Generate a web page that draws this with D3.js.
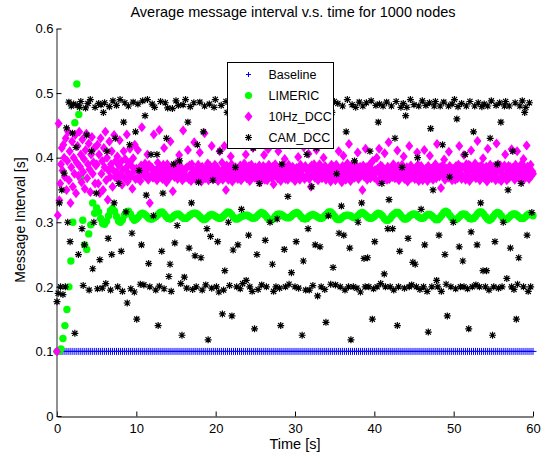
<!DOCTYPE html>
<html>
<head>
<meta charset="utf-8">
<script src="https://cdn.jsdelivr.net/npm/d3@7"></script>
<style>
  body { margin: 0; background: #fff; }
  text { font-family: "Liberation Sans", Arial, Helvetica, sans-serif; fill: #000; }
</style>
</head>
<body>
<div id="chart"></div>
<script>
const title = "Average message interval v.s. time for 1000 nodes";
const xLabel = "Time [s]";
const yLabel = "Message Interval [s]";
const xTicks = [0, 10, 20, 30, 40, 50, 60];
const yTicks = [0, 0.1, 0.2, 0.3, 0.4, 0.5, 0.6];
const yTickLabels = ["0", "0.1", "0.2", "0.3", "0.4", "0.5", "0.6"];
const seriesNames = ["Baseline", "LIMERIC", "10Hz_DCC", "CAM_DCC"];

// sample interval (s) of each series, values listed in time order
const baselineStep = 0.25;
const limericStep = 0.25;
const dccStep = 0.1;
const camStep = 0.15;

const baseline = [
  .1,.1,.1,.1,.1,.1,.1,.1,.1,.1,.1,.1,.1,.1,.1,.1,.1,.1,.1,.1,
  .1,.1,.1,.1,.1,.1,.1,.1,.1,.1,.1,.1,.1,.1,.1,.1,.1,.1,.1,.1,
  .1,.1,.1,.1,.1,.1,.1,.1,.1,.1,.1,.1,.1,.1,.1,.1,.1,.1,.1,.1,
  .1,.1,.1,.1,.1,.1,.1,.1,.1,.1,.1,.1,.1,.1,.1,.1,.1,.1,.1,.1,
  .1,.1,.1,.1,.1,.1,.1,.1,.1,.1,.1,.1,.1,.1,.1,.1,.1,.1,.1,.1,
  .1,.1,.1,.1,.1,.1,.1,.1,.1,.1,.1,.1,.1,.1,.1,.1,.1,.1,.1,.1,
  .1,.1,.1,.1,.1,.1,.1,.1,.1,.1,.1,.1,.1,.1,.1,.1,.1,.1,.1,.1,
  .1,.1,.1,.1,.1,.1,.1,.1,.1,.1,.1,.1,.1,.1,.1,.1,.1,.1,.1,.1,
  .1,.1,.1,.1,.1,.1,.1,.1,.1,.1,.1,.1,.1,.1,.1,.1,.1,.1,.1,.1,
  .1,.1,.1,.1,.1,.1,.1,.1,.1,.1,.1,.1,.1,.1,.1,.1,.1,.1,.1,.1,
  .1,.1,.1,.1,.1,.1,.1,.1,.1,.1,.1,.1,.1,.1,.1,.1,.1,.1,.1,.1,
  .1,.1,.1,.1,.1,.1,.1,.1,.1,.1,.1,.1,.1,.1,.1,.1,.1,.1,.1,.1,
  .1
];

const limeric = [
  .1,.1,.104,.12,.14,.165,.2,.24,.3,.454,.514,.467,.368,.303,.265,.258,.282,.296,.33,.314,
  .322,.316,.306,.298,.297,.302,.31,.318,.321,.317,.309,.302,.3,.304,.311,.316,.317,.313,.307,.303,
  .305,.308,.312,.314,.313,.31,.307,.305,.305,.307,.309,.312,.315,.316,.313,.309,.306,.305,.307,.31,
  .312,.313,.311,.308,.306,.306,.308,.311,.313,.314,.314,.312,.309,.306,.304,.305,.308,.311,.312,.311,
  .309,.307,.306,.307,.31,.313,.316,.315,.312,.308,.305,.305,.307,.309,.31,.311,.311,.309,.307,.306,
  .307,.31,.313,.315,.314,.311,.307,.304,.303,.305,.309,.312,.313,.312,.31,.308,.307,.307,.309,.312,
  .314,.315,.313,.309,.306,.305,.306,.309,.311,.312,.311,.309,.307,.306,.307,.31,.313,.316,.316,.313,
  .309,.305,.304,.305,.308,.31,.311,.311,.31,.308,.307,.308,.311,.314,.315,.313,.31,.307,.306,.307,
  .309,.312,.314,.313,.31,.306,.303,.303,.306,.31,.313,.315,.315,.312,.308,.305,.305,.307,.31,.312,
  .313,.312,.309,.307,.306,.307,.31,.312,.312,.31,.307,.304,.304,.307,.311,.315,.317,.315,.311,.307,
  .304,.304,.306,.309,.312,.313,.312,.309,.306,.305,.306,.309,.313,.316,.316,.313,.309,.305,.303,.305,
  .309,.313,.315,.314,.31,.306,.304,.305,.308,.311,.313,.313,.311,.308,.306,.306,.308,.311,.313,.312,
  .31
];

const dcc10Hz = [
  .1,.311,.453,.334,.36,.39,.415,.38,.42,.4,.37,.43,.35,.395,.44,.365,.41,.33,.385,.425,.355,.4,.375,.435,.345,
  .392,.418,.372,.44,.386,.405,.362,.428,.378,.398,.352,.412,.437,.368,.39,.422,.382,.347,.405,.432,.375,.393,.415,.36,.388,
  .39,.42,.36,.405,.345,.43,.375,.395,.35,.415,.385,.44,.365,.4,.335,.38,.425,.37,.39,.41,.355,.38,.435,.37,.395,
  .378,.402,.366,.388,.427,.372,.394,.358,.381,.41,.369,.398,.384,.436,.363,.376,.392,.414,.371,.387,.352,.399,.379,.42,.367,
  .383,.368,.412,.379,.371,.364,.388,.447,.377,.386,.372,.391,.374,.38,.405,.366,.389,.33,.372,.385,.384,.369,.436,.379,.376,
  .381,.365,.392,.374,.443,.386,.37,.379,.367,.389,.415,.373,.382,.362,.39,.377,.385,.369,.425,.381,.374,.348,.387,.37,.383,
  .391,.376,.367,.387,.404,.372,.386,.381,.365,.442,.378,.369,.383,.37,.385,.412,.367,.388,.374,.364,.39,.383,.371,.424,.378,
  .366,.382,.375,.389,.369,.408,.377,.363,.386,.373,.38,.438,.368,.384,.376,.391,.365,.379,.387,.372,.418,.381,.367,.375,.389,
  .373,.386,.379,.364,.381,.41,.369,.377,.392,.366,.383,.418,.371,.35,.388,.376,.366,.379,.374,.402,.39,.363,.384,.377,.368,
  .385,.372,.381,.367,.421,.379,.388,.365,.374,.383,.37,.391,.376,.405,.368,.382,.373,.387,.364,.378,.389,.371,.415,.38,.369,
  .385,.381,.367,.423,.374,.388,.362,.379,.379,.37,.387,.404,.366,.384,.375,.365,.413,.389,.372,.381,.384,.368,.386,.359,.377,
  .39,.373,.382,.368,.41,.376,.385,.364,.379,.371,.388,.374,.398,.367,.383,.377,.366,.389,.372,.42,.38,.369,.386,.375,.382,
  .364,.382,.384,.371,.401,.378,.366,.389,.386,.373,.382,.416,.367,.387,.37,.383,.379,.406,.367,.385,.355,.388,.374,.381,.39,
  .369,.377,.412,.383,.365,.376,.39,.372,.385,.368,.379,.4,.374,.387,.366,.381,.371,.425,.378,.384,.363,.389,.375,.37,.386,
  .376,.365,.389,.385,.371,.41,.382,.368,.38,.362,.387,.403,.374,.385,.366,.382,.391,.37,.421,.378,.364,.388,.377,.372,.384,
  .369,.39,.376,.383,.408,.367,.379,.386,.373,.381,.35,.388,.371,.377,.414,.385,.366,.38,.374,.389,.368,.383,.376,.395,.372,
  .369,.381,.378,.4,.383,.363,.414,.375,.388,.371,.386,.365,.381,.407,.379,.374,.366,.386,.424,.367,.383,.379,.385,.37,.39,
  .376,.368,.382,.373,.411,.387,.365,.378,.384,.371,.389,.374,.402,.367,.381,.376,.385,.363,.379,.418,.372,.388,.369,.383,.375,
  .382,.367,.384,.376,.408,.389,.364,.384,.372,.387,.378,.365,.381,.412,.37,.383,.379,.364,.387,.375,.403,.369,.383,.38,.366,
  .386,.374,.39,.368,.421,.377,.382,.371,.385,.353,.379,.388,.373,.397,.366,.384,.376,.381,.369,.409,.387,.372,.378,.365,.383,
  .379,.374,.366,.387,.382,.368,.389,.418,.376,.386,.367,.385,.371,.404,.384,.366,.39,.378,.373,.389,.364,.387,.411,.381,.37,
  .383,.375,.391,.368,.38,.426,.372,.386,.365,.379,.388,.374,.399,.369,.382,.377,.386,.363,.414,.38,.371,.389,.376,.368,.384,
  .386,.372,.385,.365,.422,.379,.39,.367,.383,.388,.364,.376,.384,.37,.388,.405,.374,.365,.382,.387,.369,.386,.377,.413,.384,
  .371,.38,.366,.389,.375,.41,.382,.368,.385,.373,.379,.391,.364,.398,.377,.383,.37,.419,.386,.374,.367,.381,.389,.372,.379,
  .375
];

const camDcc = [
  .177,.19,.33,.2,.35,.188,.376,.2,.446,.3,.486,.27,.48,.438,.483,.128,.416,.481,.25,.478,
  .487,.29,.202,.265,.477,.435,.484,.195,.49,.41,.228,.3,.478,.345,.197,.484,.242,.482,.198,.47,
  .485,.205,.41,.275,.479,.195,.25,.488,.33,.43,.481,.2,.36,.49,.255,.193,.455,.485,.316,.175,
  .48,.42,.197,.283,.486,.192,.44,.15,.483,.38,.204,.265,.488,.203,.465,.342,.49,.236,.2,.405,
  .483,.31,.478,.195,.405,.14,.201,.487,.255,.345,.197,.485,.43,.477,.216,.235,.193,.476,.39,.268,
  .488,.295,.481,.395,.205,.125,.482,.215,.49,.198,.455,.26,.479,.33,.196,.485,.248,.2,.42,.362,
  .486,.245,.195,.44,.48,.203,.29,.118,.483,.278,.198,.365,.478,.49,.2,.27,.192,.41,.481,.158,
  .195,.225,.487,.47,.3,.202,.482,.155,.257,.478,.385,.2,.265,.489,.197,.32,.205,.448,.48,.21,
  .484,.28,.2,.479,.193,.415,.135,.488,.25,.196,.36,.485,.203,.46,.477,.272,.2,.487,.43,.3,
  .48,.235,.193,.486,.2,.305,.482,.198,.14,.39,.483,.258,.2,.478,.34,.204,.49,.222,.481,.45,
  .2,.27,.485,.198,.45,.48,.125,.24,.487,.195,.405,.29,.195,.483,.355,.202,.477,.265,.415,.186,
  .488,.262,.2,.42,.48,.196,.145,.485,.31,.479,.204,.47,.23,.487,.203,.375,.484,.283,.2,.325,
  .48,.28,.195,.44,.49,.2,.26,.118,.482,.2,.395,.478,.198,.3,.486,.192,.33,.48,.244,.2,
  .485,.245,.2,.41,.488,.15,.197,.27,.481,.2,.455,.483,.205,.36,.48,.22,.2,.486,.29,.335,
  .2,.48,.29,.195,.43,.487,.14,.2,.255,.478,.385,.484,.198,.465,.478,.275,.2,.49,.203,.238,
  .482,.235,.2,.4,.48,.196,.32,.488,.2,.265,.481,.193,.13,.485,.445,.2,.35,.48,.487,.21,
  .2,.28,.48,.193,.42,.486,.25,.204,.155,.48,.37,.2,.483,.3,.49,.197,.46,.479,.262,.2,
  .484,.24,.2,.405,.48,.197,.135,.487,.285,.2,.44,.48,.203,.265,.485,.2,.33,.479,.225,.483,
  .2,.225,.48,.195,.43,.488,.125,.2,.27,.481,.39,.198,.485,.455,.2,.3,.48,.487,.213,.35,
  .48,.26,.2,.41,.196,.485,.15,.204,.245,.48,.36,.488,.2,.47,.478,.28,.193,.485,.2,.315
];

const svgWidth = 542;
const svgHeight = 454;
const margin = { top: 28.5, right: 9, bottom: 38, left: 57 };

const svg = d3.select("#chart")
  .append("svg")
  .attr("width", svgWidth)
  .attr("height", svgHeight);

const x = d3.scaleLinear()
  .domain([0, 60])
  .range([margin.left, svgWidth - margin.right]);

const y = d3.scaleLinear()
  .domain([0, 0.6])
  .range([svgHeight - margin.bottom, margin.top]);

const toPoints = (values, step) => values.map((v, i) => ({ t: i * step, v: v }));

// axes, ticks point inward like matlab
const xAxis = svg.append("g")
  .attr("transform", `translate(0,${y(0) + 0.5})`)
  .call(d3.axisBottom(x).tickValues(xTicks).tickSizeInner(-5).tickSizeOuter(0).tickPadding(7))
xAxis.selectAll("text").attr("font-size", "13px").attr("font-family", "Liberation Sans, Arial, sans-serif")

const yAxis = svg.append("g")
  .attr("transform", `translate(${x(0) - 0.5},0)`)
  .call(d3.axisLeft(y).tickValues(yTicks).tickFormat((d, i) => yTickLabels[i]).tickSizeInner(-5).tickSizeOuter(0).tickPadding(3))
yAxis.selectAll("text").attr("font-size", "13px").attr("font-family", "Liberation Sans, Arial, sans-serif")
yAxis.select(".domain").attr("stroke", "#555").attr("stroke-width", 1.3)

svg.append("text")
  .attr("x", 293)
  .attr("y", 17)
  .attr("text-anchor", "middle")
  .attr("font-size", "14.5px")
  .text(title)

svg.append("text")
  .attr("x", 295)
  .attr("y", 449)
  .attr("text-anchor", "middle")
  .attr("font-size", "14.5px")
  .text(xLabel)

svg.append("text")
  .attr("transform", "translate(25,220) rotate(-90)")
  .attr("text-anchor", "middle")
  .attr("font-size", "14px")
  .text(yLabel)

// marker shapes
const plusPath = "M-3.5,0H3.5M0,-3.5V3.5";
const diamondPath = "M0,-5L4,0L0,5L-4,0Z";
const starPath = "M-3.5,0H3.5M0,-3.5V3.5M-2.6,-2.6L2.6,2.6M-2.6,2.6L2.6,-2.6";

const plot = svg.append("g");

plot.append("g").selectAll("path")
  .data(toPoints(baseline, baselineStep))
  .join("path")
  .attr("transform", d => `translate(${x(d.t)},${y(d.v)})`)
  .attr("d", plusPath)
  .attr("fill", "none")
  .attr("stroke", "#0000ff")
  .attr("stroke-width", 1)

plot.append("g").selectAll("circle")
  .data(toPoints(limeric, limericStep))
  .join("circle")
  .attr("cx", d => x(d.t))
  .attr("cy", d => y(d.v))
  .attr("r", 3.7)
  .attr("fill", "#00ff00")

plot.append("g").selectAll("path")
  .data(toPoints(dcc10Hz, dccStep))
  .join("path")
  .attr("transform", d => `translate(${x(d.t)},${y(d.v)})`)
  .attr("d", diamondPath)
  .attr("fill", "#ff00ff")

plot.append("g").selectAll("path")
  .data(toPoints(camDcc, camStep))
  .join("path")
  .attr("transform", d => `translate(${x(d.t)},${y(d.v)})`)
  .attr("d", starPath)
  .attr("fill", "none")
  .attr("stroke", "#000")
  .attr("stroke-width", 1.2)

// legend
const legend = svg.append("g").attr("transform", "translate(227.5,62.5)")
legend.append("rect")
  .attr("width", 106)
  .attr("height", 86)
  .attr("fill", "#fff")
  .attr("stroke", "#000")
  .attr("stroke-width", 1)

const legendMarks = [
  g => g.append("path").attr("d", "M-2.5,0H2.5M0,-2.5V2.5").attr("fill", "none").attr("stroke", "#0000ff"),
  g => g.append("circle").attr("r", 3.6).attr("fill", "#00ff00"),
  g => g.append("path").attr("d", diamondPath).attr("fill", "#ff00ff"),
  g => g.append("path").attr("d", starPath).attr("fill", "none").attr("stroke", "#000").attr("stroke-width", 1.2)
];

const items = legend.selectAll(".item")
  .data(seriesNames)
  .join("g")
  .attr("class", "item")
  .attr("transform", (d, i) => `translate(0,${12 + i * 21})`)

items.each(function(d, i) {
  const mark = d3.select(this).append("g").attr("transform", "translate(21,0)")
  legendMarks[i](mark)
})

items.append("text")
  .attr("x", 41)
  .attr("dy", "0.36em")
  .attr("font-size", "12.5px")
  .text(d => d)
</script>
</body>
</html>
